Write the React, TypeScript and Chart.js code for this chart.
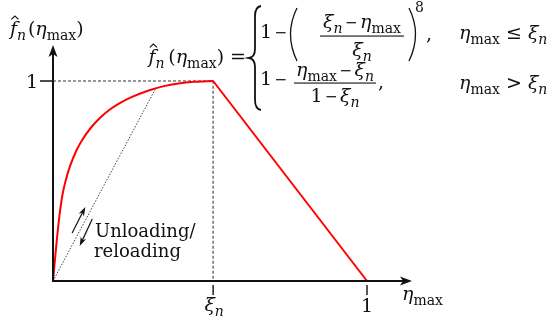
import React, { useEffect, useRef } from "react";
import { Chart, registerables } from "chart.js";

Chart.register(...registerables);

// Damage-onset parameter on the η axis
const XI = 0.51;

// Loading branch (η ≤ ξn)
const loadingEta = [0, 0.01, 0.02, 0.03, 0.04, 0.055, 0.075, 0.095, 0.12, 0.15, 0.18, 0.21, 0.25, 0.3, 0.35, 0.4, 0.45, XI];
const loadingF = [0, 0.17, 0.32, 0.43, 0.5, 0.578, 0.654, 0.71, 0.765, 0.816, 0.856, 0.887, 0.919, 0.95, 0.973, 0.988, 0.996, 1];

// Softening branch (η > ξn)
const softeningEta = [XI, 1];
const softeningF = [1, 0];

// Secant unloading / reloading path
const unloadEta = [0, 0.328];
const unloadF = [0, 0.966];

// Guide lines to the peak
const guideEta = [0, XI, XI];
const guideF = [1, 1, 0];

// Direction arrows beside the unloading path: [η0, f0, η1, f1]
const upArrow = [0.061, 0.24, 0.103, 0.37];
const downArrow = [0.125, 0.31, 0.085, 0.175];

// Axis extents
const X_MAX = 1.1433;
const Y_MAX = 1.18;

const FONT = '"DejaVu Serif", serif';
const INK = "#111";
const TEXT = 18;
const MATH = 19;

type Run = { t: string; it?: boolean; sub?: boolean; sup?: boolean; op?: boolean };

const pts = (xs: number[], ys: number[]) => xs.map((x, i) => ({ x, y: ys[i] }));

function setFont(ctx: CanvasRenderingContext2D, r: Run, base: number) {
  const size = r.sub || r.sup ? Math.round(base * 0.72) : base;
  ctx.font = `${r.it ? "italic " : ""}${size}px ${FONT}`;
}
function runWidth(ctx: CanvasRenderingContext2D, r: Run, base: number) {
  if (r.op) return base * 0.5 + 8;
  setFont(ctx, r, base);
  return ctx.measureText(r.t).width;
}
function widthOf(ctx: CanvasRenderingContext2D, runs: Run[], base: number) {
  return runs.reduce((w, r) => w + runWidth(ctx, r, base), 0);
}
function drawRuns(ctx: CanvasRenderingContext2D, runs: Run[], x: number, y: number, base: number) {
  ctx.textAlign = "left";
  ctx.textBaseline = "alphabetic";
  for (const r of runs) {
    const w = runWidth(ctx, r, base);
    if (r.op) {
      // binary minus as a rule on the math axis
      ctx.fillRect(x + 4, y - base * 0.31, base * 0.5, 1.2);
    } else {
      setFont(ctx, r, base);
      const dy = r.sub ? base * 0.28 : r.sup ? -base * 0.42 : 0;
      ctx.fillText(r.t, x, y + dy);
    }
    x += w;
  }
  return x;
}
function hat(ctx: CanvasRenderingContext2D, cx: number, top: number) {
  ctx.beginPath();
  ctx.moveTo(cx - 3.6, top + 3.4);
  ctx.lineTo(cx, top);
  ctx.lineTo(cx + 3.6, top + 3.4);
  ctx.lineWidth = 1.1;
  ctx.strokeStyle = INK;
  ctx.stroke();
}

const MINUS: Run = { t: "−", op: true };
const etaMax: Run[] = [{ t: "η", it: true }, { t: "max", sub: true }];
const xiN: Run[] = [{ t: "ξ", it: true }, { t: "n", it: true, sub: true }];
const fHatLabel: Run[] = [{ t: "f", it: true }, { t: "n", it: true, sub: true }, { t: "\u200a(" }, ...etaMax, { t: ")" }];
const fHatLhs: Run[] = [{ t: "f", it: true }, { t: "n", it: true, sub: true }, { t: "\u2009(" }, ...etaMax, { t: ")" }];

function drawFHat(ctx: CanvasRenderingContext2D, runs: Run[], x: number, y: number, base: number) {
  setFont(ctx, { t: "f", it: true }, base);
  const fw = ctx.measureText("f").width;
  const end = drawRuns(ctx, runs, x, y, base);
  hat(ctx, x + fw * 0.7, y - base);
  return end;
}

function arrowLine(ctx: CanvasRenderingContext2D, x0: number, y0: number, x1: number, y1: number) {
  const a = Math.atan2(y1 - y0, x1 - x0);
  const c = Math.cos(a), s = Math.sin(a);
  ctx.beginPath();
  ctx.moveTo(x0, y0);
  ctx.lineTo(x1 - 4 * c, y1 - 4 * s);
  ctx.lineWidth = 1.2;
  ctx.strokeStyle = INK;
  ctx.stroke();
  const L = 9, W = 3;
  ctx.beginPath();
  ctx.moveTo(x1, y1);
  ctx.lineTo(x1 - L * c + W * s, y1 - L * s - W * c);
  ctx.lineTo(x1 - L * 0.7 * c, y1 - L * 0.7 * s);
  ctx.lineTo(x1 - L * c - W * s, y1 - L * s + W * c);
  ctx.closePath();
  ctx.fillStyle = INK;
  ctx.fill();
}

const decorations = {
  id: "decorations",
  afterDatasetsDraw(chart: any) {
    const ctx: CanvasRenderingContext2D = chart.ctx;
    const xs = chart.scales.x;
    const ys = chart.scales.y;
    const px = (v: number) => xs.getPixelForValue(v);
    const py = (v: number) => ys.getPixelForValue(v);
    const x0 = px(0), y0 = py(0);
    const xEnd = px(X_MAX), yEnd = py(Y_MAX);
    ctx.save();

    // axes
    ctx.strokeStyle = INK;
    ctx.fillStyle = INK;
    ctx.lineWidth = 2;
    ctx.beginPath();
    ctx.moveTo(x0, y0 + 1);
    ctx.lineTo(x0, yEnd + 6);
    ctx.moveTo(x0 - 1, y0);
    ctx.lineTo(xEnd - 6, y0);
    ctx.stroke();
    ctx.beginPath();
    ctx.moveTo(x0, yEnd);
    ctx.lineTo(x0 - 4.5, yEnd + 12);
    ctx.lineTo(x0, yEnd + 9);
    ctx.lineTo(x0 + 4.5, yEnd + 12);
    ctx.closePath();
    ctx.fill();
    ctx.beginPath();
    ctx.moveTo(xEnd, y0);
    ctx.lineTo(xEnd - 12, y0 - 4.5);
    ctx.lineTo(xEnd - 9, y0);
    ctx.lineTo(xEnd - 12, y0 + 4.5);
    ctx.closePath();
    ctx.fill();

    // ticks
    ctx.lineWidth = 1.4;
    ctx.beginPath();
    ctx.moveTo(x0 - 13, py(1));
    ctx.lineTo(x0, py(1));
    for (const v of [XI, 1]) {
      ctx.moveTo(px(v), y0 + 4);
      ctx.lineTo(px(v), y0 + 14);
    }
    ctx.stroke();

    // tick labels
    ctx.font = `${MATH}px ${FONT}`;
    ctx.textAlign = "right";
    ctx.fillText("1", x0 - 15, py(1) + 7);
    ctx.textAlign = "center";
    ctx.fillText("1", px(1), y0 + 31);
    const xw = widthOf(ctx, xiN, MATH);
    drawRuns(ctx, xiN, px(XI) - xw / 2 + 1, y0 + 30, MATH);

    // axis titles
    drawRuns(ctx, etaMax, xEnd - 10, y0 + 19, MATH);
    drawFHat(ctx, fHatLabel, 10, 35, MATH);

    // unloading / reloading note
    ctx.font = `${TEXT}px ${FONT}`;
    ctx.textAlign = "left";
    ctx.fillText("Unloading/", 95, 237);
    ctx.fillText("reloading", 94, 257);
    arrowLine(ctx, px(upArrow[0]), py(upArrow[1]), px(upArrow[2]), py(upArrow[3]));
    arrowLine(ctx, px(downArrow[0]), py(downArrow[1]), px(downArrow[2]), py(downArrow[3]));

    // piecewise definition
    const lhs: Run[] = [...fHatLhs, { t: " =" }];
    drawFHat(ctx, lhs, 246 - widthOf(ctx, lhs, MATH), 63, MATH);

    // big brace
    ctx.lineWidth = 1.8;
    ctx.beginPath();
    ctx.moveTo(261, 6);
    ctx.quadraticCurveTo(255, 7, 255, 16);
    ctx.lineTo(255, 49);
    ctx.quadraticCurveTo(255, 57, 249, 58);
    ctx.quadraticCurveTo(255, 59, 255, 67);
    ctx.lineTo(255, 100);
    ctx.quadraticCurveTo(255, 109, 261, 110);
    ctx.stroke();

    // row 1
    const r1 = 38;
    drawRuns(ctx, [{ t: "1" }, MINUS], 260, r1, MATH);
    ctx.lineWidth = 1.3;
    ctx.beginPath();
    ctx.moveTo(297, 8);
    ctx.quadraticCurveTo(284, 34, 297, 61);
    ctx.moveTo(409, 8);
    ctx.quadraticCurveTo(422, 34, 409, 61);
    ctx.stroke();
    const num1: Run[] = [...xiN, MINUS, ...etaMax];
    const n1w = widthOf(ctx, num1, MATH);
    const cx1 = 362;
    drawRuns(ctx, num1, cx1 - n1w / 2, 28, MATH);
    const d1w = widthOf(ctx, xiN, MATH);
    drawRuns(ctx, xiN, cx1 - d1w / 2, 56, MATH);
    ctx.fillRect(cx1 - n1w / 2 - 3, 35.5, n1w + 6, 1.1);
    drawRuns(ctx, [{ t: "8", sup: true }], 415, 20, MATH);
    drawRuns(ctx, [{ t: "," }], 426, r1 + 2, MATH);
    drawRuns(ctx, [...etaMax, { t: " ≤ " }, ...xiN], 459, r1 + 1, MATH);

    // row 2
    const r2 = 85;
    drawRuns(ctx, [{ t: "1" }, MINUS], 260, r2, MATH);
    const num2: Run[] = [...etaMax, MINUS, ...xiN];
    const n2w = widthOf(ctx, num2, MATH);
    const cx2 = 335;
    drawRuns(ctx, num2, cx2 - n2w / 2, 76, MATH);
    const den2: Run[] = [{ t: "1" }, MINUS, ...xiN];
    const d2w = widthOf(ctx, den2, MATH);
    drawRuns(ctx, den2, cx2 - d2w / 2, 102, MATH);
    ctx.fillRect(cx2 - n2w / 2 - 2, 82.5, n2w + 4, 1.1);
    drawRuns(ctx, [{ t: "," }], cx2 + n2w / 2 + 4, r2 + 3, MATH);
    drawRuns(ctx, [...etaMax, { t: " > " }, ...xiN], 459, r2 + 4, MATH);

    ctx.restore();
  },
};

export default function App() {
  const ref = useRef<HTMLCanvasElement>(null);
  useEffect(() => {
    if (!ref.current) return;
    const chart = new Chart(ref.current, {
      type: "scatter",
      data: {
        datasets: [
          {
            data: pts(loadingEta, loadingF),
            showLine: true,
            borderColor: "#ff0000",
            borderWidth: 2,
            pointRadius: 0,
            cubicInterpolationMode: "monotone",
            clip: false as any,
          },
          {
            data: pts(softeningEta, softeningF),
            showLine: true,
            borderColor: "#ff0000",
            borderWidth: 2,
            pointRadius: 0,
            tension: 0,
            clip: false as any,
          },
          {
            data: pts(unloadEta, unloadF),
            showLine: true,
            borderColor: "#444",
            borderWidth: 1,
            borderDash: [1.5, 1.5],
            pointRadius: 0,
            clip: false as any,
          },
          {
            data: pts(guideEta, guideF),
            showLine: true,
            borderColor: "#777",
            borderWidth: 1.6,
            borderDash: [3, 2],
            pointRadius: 0,
            clip: false as any,
          },
        ],
      },
      options: {
        animation: false,
        responsive: true,
        maintainAspectRatio: false,
        layout: { padding: { left: 53, right: 146, top: 45, bottom: 43 } },
        plugins: { legend: { display: false }, tooltip: { enabled: false } },
        events: [],
        scales: {
          x: { type: "linear", min: 0, max: X_MAX, display: false },
          y: { type: "linear", min: 0, max: Y_MAX, display: false },
        },
      },
      plugins: [decorations],
    });
    return () => chart.destroy();
  }, []);
  return (
    <div style={{ position: "absolute", left: 0, top: 0, width: 558, height: 324, background: "#fff" }}>
      <canvas ref={ref} />
    </div>
  );
}
